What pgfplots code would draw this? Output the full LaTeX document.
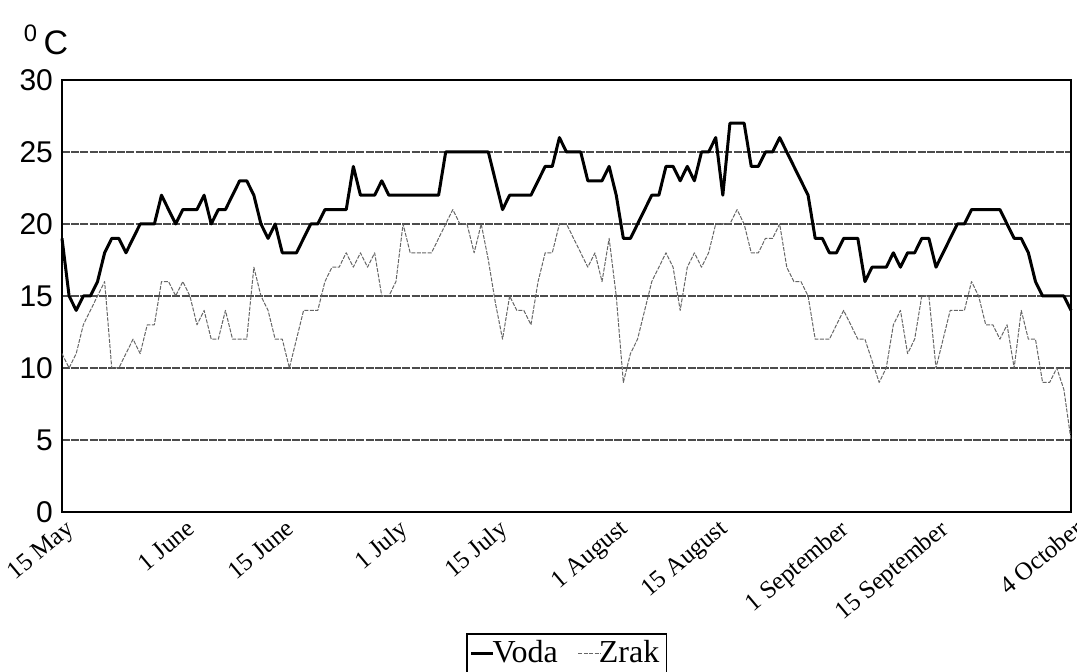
\documentclass[border=0pt]{standalone}
\usepackage{pgfplots}
\usepackage{pgfplotstable}
\pgfplotsset{compat=1.18}
\usepackage{fontspec}
\setmainfont{Liberation Serif}
\setsansfont{Liberation Sans}

\pgfplotstableread{
d v
0 19
1 15
2 14
3 15
4 15
5 16
6 18
7 19
8 19
9 18
10 19
11 20
12 20
13 20
14 22
15 21
16 20
17 21
18 21
19 21
20 22
21 20
22 21
23 21
24 22
25 23
26 23
27 22
28 20
29 19
30 20
31 18
32 18
33 18
34 19
35 20
36 20
37 21
38 21
39 21
40 21
41 24
42 22
43 22
44 22
45 23
46 22
47 22
48 22
49 22
50 22
51 22
52 22
53 22
54 25
55 25
56 25
57 25
58 25
59 25
60 25
61 23
62 21
63 22
64 22
65 22
66 22
67 23
68 24
69 24
70 26
71 25
72 25
73 25
74 23
75 23
76 23
77 24
78 22
79 19
80 19
81 20
82 21
83 22
84 22
85 24
86 24
87 23
88 24
89 23
90 25
91 25
92 26
93 22
94 27
95 27
96 27
97 24
98 24
99 25
100 25
101 26
102 25
103 24
104 23
105 22
106 19
107 19
108 18
109 18
110 19
111 19
112 19
113 16
114 17
115 17
116 17
117 18
118 17
119 18
120 18
121 19
122 19
123 17
124 18
125 19
126 20
127 20
128 21
129 21
130 21
131 21
132 21
133 20
134 19
135 19
136 18
137 16
138 15
139 15
140 15
141 15
142 14
}\voda

\pgfplotstableread{
d v
0 11
1 10
2 11
3 13
4 14
5 15
6 16
7 10
8 10
9 11
10 12
11 11
12 13
13 13
14 16
15 16
16 15
17 16
18 15
19 13
20 14
21 12
22 12
23 14
24 12
25 12
26 12
27 17
28 15
29 14
30 12
31 12
32 10
33 12
34 14
35 14
36 14
37 16
38 17
39 17
40 18
41 17
42 18
43 17
44 18
45 15
46 15
47 16
48 20
49 18
50 18
51 18
52 18
53 19
54 20
55 21
56 20
57 20
58 18
59 20
60 17.5
61 14.5
62 12
63 15
64 14
65 14
66 13
67 16
68 18
69 18
70 20
71 20
72 19
73 18
74 17
75 18
76 16
77 19
78 15
79 9
80 11
81 12
82 14
83 16
84 17
85 18
86 17
87 14
88 17
89 18
90 17
91 18
92 20
93 20
94 20
95 21
96 20
97 18
98 18
99 19
100 19
101 20
102 17
103 16
104 16
105 15
106 12
107 12
108 12
109 13
110 14
111 13
112 12
113 12
114 10.5
115 9
116 10
117 13
118 14
119 11
120 12
121 15
122 15
123 10
124 12
125 14
126 14
127 14
128 16
129 15
130 13
131 13
132 12
133 13
134 10
135 14
136 12
137 12
138 9
139 9
140 10
141 8.5
142 5
}\zrak

\begin{document}
\begin{tikzpicture}
\begin{axis}[
  scale only axis,
  width=504.5pt, height=216pt,
  xmin=0, xmax=142, ymin=0, ymax=30,
  axis line style={line width=1.1pt},
  xtick={0,17,31,47,61,78,92,109,123,142},
  xticklabels={15 May,1 June,15 June,1 July,15 July,1 August,15 August,1 September,15 September,4 October},
  x tick label style={rotate=40, anchor=north east, font=\fontsize{12.5}{13}\selectfont, inner sep=1pt, yshift=-2pt},
  ytick={0,5,...,30},
  yticklabel style={font=\fontsize{15}{15}\selectfont\sffamily, xshift=-1pt},
  /pgf/number format/assume math mode=true,
  major tick length=0pt,
  ymajorgrids,
  major grid style={black!70, line width=0.55pt, dash pattern=on 4pt off 0.6pt},
  legend columns=2,
  legend style={at={(0.5,-0.28)}, anchor=north, draw=black, line width=0.8pt,
    font=\fontsize{16}{16}\selectfont, inner sep=1.5pt,
    /tikz/every even column/.append style={column sep=8pt}},
  legend image code/.code={\draw[#1] (0pt,0pt) -- (11pt,0pt);},
  clip=false,
]
\addplot[black, line width=1.5pt, line join=round] table[x=d, y=v] {\voda};
\addlegendentry{\hspace{-3pt}Voda}
\addplot[black!60, line width=0.5pt, dash pattern=on 2pt off 0.7pt, line join=round] table[x=d, y=v] {\zrak};
\addlegendentry{\hspace{-3pt}Zrak}
\node[font=\fontsize{17}{17}\selectfont\sffamily, anchor=center] at ([shift={(-8pt,20pt)}]rel axis cs:0,1) {\textsuperscript{0}\,C};
\coordinate (SW) at (rel axis cs:0,0);
\coordinate (NE) at (rel axis cs:1,1);
\end{axis}
\pgfresetboundingbox
\path ([shift={(-31pt,-80pt)}]SW) rectangle ([shift={(3pt,40pt)}]NE);
\end{tikzpicture}
\end{document}
